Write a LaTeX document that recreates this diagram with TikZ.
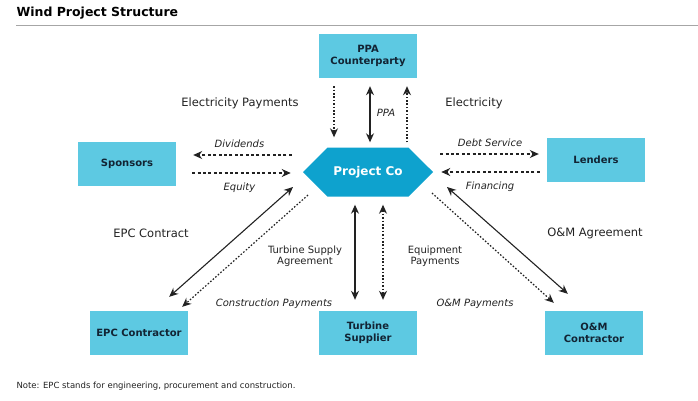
\documentclass[tikz,border=0pt]{standalone}
\usepackage{fontspec}
\setmainfont{DejaVu Sans}
\usepackage{xcolor}
\usetikzlibrary{positioning,arrows.meta,calc,shapes.symbols}

\definecolor{boxblue}{RGB}{93,201,226}
\definecolor{hexblue}{RGB}{14,162,206}
\definecolor{boxtext}{RGB}{18,36,52}
\definecolor{arrgray}{RGB}{34,34,34}

\tikzset{
  box/.style={fill=boxblue, minimum width=98pt, minimum height=44pt, align=center,
    text=boxtext, font=\bfseries\fontsize{10}{12}\selectfont},
  hexa/.style={signal, signal to=west and east, signal pointer angle=90,
    fill=hexblue, minimum width=130pt, minimum height=49pt, inner sep=0pt,
    text=white, font=\bfseries\fontsize{12}{14}\selectfont},
  solidarr/.style={draw=arrgray, line width=1.1pt},
  dotarr/.style={draw=arrgray, line width=1.2pt, dash pattern=on 1.6pt off 1.8pt},
  dasharr/.style={draw=arrgray, line width=1.1pt, dash pattern=on 3pt off 2.4pt},
  biglbl/.style={text=arrgray, font=\fontsize{11.5}{13}\selectfont},
  lbl/.style={text=arrgray, align=center, font=\fontsize{10}{11.5}\selectfont},
  itlbl/.style={text=arrgray, font=\itshape\fontsize{10}{12}\selectfont}
}

\begin{document}
\begin{tikzpicture}[x=1pt,y=-1pt,on grid,>={Stealth[length=9pt,width=8pt]}]
    \useasboundingbox (0,0) rectangle (698,400);

    % title and rule
    \node[anchor=west, font=\bfseries\fontsize{12.5}{14}\selectfont] (title) at (13,13) {Wind Project Structure};
    \draw[gray!70, line width=1pt] (16,25) -- (698,25);

    % parties
    \node[hexa] (pc) at (368,172) {Project Co};
    \node[box] (ppa) [above=116pt of pc] {PPA\\Counterparty};
    \node[box] (sp) [above left=8pt and 241pt of pc] {Sponsors};
    \node[box] (le) [above right=12pt and 228pt of pc] {Lenders};
    \node[box] (epc) [below left=161pt and 229pt of pc] {EPC Contractor};
    \node[box] (ts) [below=161pt of pc] {Turbine\\Supplier};
    \node[box] (om) [below right=161pt and 226pt of pc] {O\&M\\Contractor};

    % flows with the offtaker
    \draw[dotarr, ->, shorten <=8pt, shorten >=10pt] ([xshift=-34pt]ppa.south) -- ([xshift=-34pt]pc.north);
    \draw[solidarr, <->, shorten <=8pt, shorten >=5pt] ([xshift=2pt]ppa.south) -- node[itlbl, right=3pt] (lppa) {PPA} ([xshift=2pt]pc.north);
    \draw[dotarr, ->, shorten <=5pt, shorten >=8pt] ([xshift=39pt]pc.north) -- ([xshift=39pt]ppa.south);
    \node[biglbl] (lelp) at (240,103) {Electricity Payments};
    \node[biglbl] (lel) at (474,103) {Electricity};

    % sponsors and lenders
    \draw[dasharr, ->, shorten <=11pt, shorten >=17pt] ([yshift=17pt]pc.west) -- node[itlbl, above=3pt] (ldiv) {Dividends} ([yshift=9pt]sp.east);
    \draw[dasharr, ->, shorten <=16pt, shorten >=12pt] ([yshift=-9pt]sp.east) -- node[itlbl, below=6pt] (leq) {Equity} ([yshift=-1pt]pc.west);
    \draw[dasharr, ->, shorten <=7pt, shorten >=8pt] ([yshift=18pt]pc.east) -- node[itlbl, above=3pt] (ldebt) {Debt Service} ([yshift=6pt]le.west);
    \draw[dasharr, ->, shorten <=7pt, shorten >=8pt] ([yshift=-12pt]le.west) -- node[itlbl, below=6pt] (lfin) {Financing} (pc.east);

    % construction and supply
    \draw[solidarr, <->] ($(pc)+(-75,15)$) -- ($(epc.north east)+(-19,-14)$);
    \draw[dotarr, ->] ($(pc)+(-60,23)$) -- ($(epc.north east)+(-6,-4)$);
    \draw[solidarr, <->, shorten <=8pt, shorten >=11pt] ([xshift=-13pt]pc.south) -- ([xshift=-13pt]ts.north);
    \draw[dotarr, <->, shorten <=8pt, shorten >=11pt] ([xshift=15pt]pc.south) -- ([xshift=15pt]ts.north);
    \draw[solidarr, <->] ($(pc)+(79,15)$) -- ($(om.north west)+(23,-17)$);
    \draw[dotarr, ->] ($(pc)+(64,21)$) -- ($(om.north west)+(9,-8)$);

    \node[biglbl] (lepc) at (151,233) {EPC Contract};
    \node[biglbl] (loma) at (595,233) {O\&M Agreement};
    \node[lbl] (ltsa) at (305,256) {Turbine Supply\\Agreement};
    \node[lbl] (leqp) at (435,256) {Equipment\\Payments};
    \node[itlbl] (lcon) at (274,304) {Construction Payments};
    \node[itlbl] (lomp) at (475,304) {O\&M Payments};

    % note
    \node[anchor=west, text=arrgray, font=\fontsize{8.5}{10}\selectfont] (note) at (13,386) {Note: EPC stands for engineering, procurement and construction.};
\end{tikzpicture}
\end{document}
